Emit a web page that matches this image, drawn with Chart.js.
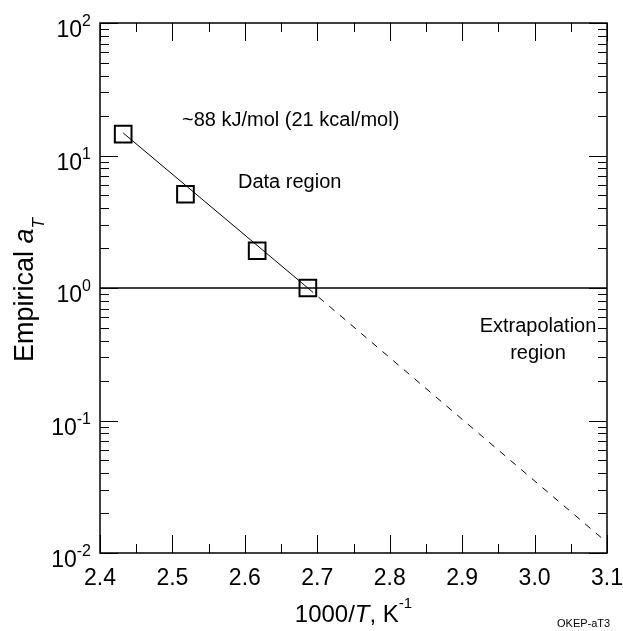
<!DOCTYPE html>
<html>
<head>
<meta charset="utf-8">
<script src="https://cdn.jsdelivr.net/npm/chart.js@4.4.1/dist/chart.umd.min.js"></script>
<style>
  body { margin: 0; background: #fff; }
  canvas { display: block; }
</style>
</head>
<body>
<canvas id="chart" width="623" height="631"></canvas>
<script>
// measured points (1000/T vs empirical shift factor)
var pointX = [2.432, 2.518, 2.617, 2.687];
var pointY = [14.5, 5.1, 1.91, 1.0];

// fitted Arrhenius line, solid over the data, dashed beyond it
var fitX = [2.432, 2.687];
var fitY = [14.8, 1.0];
var extrapX = [2.687, 3.1];
var extrapY = [1.0, 0.012];

// reference line at aT = 1
var refX = [2.4, 3.1];
var refY = [1, 1];

var xTicks = [2.4, 2.5, 2.6, 2.7, 2.8, 2.9, 3.0, 3.1];
var xTickLabels = ['2.4', '2.5', '2.6', '2.7', '2.8', '2.9', '3.0', '3.1'];
var yDecades = [-2, -1, 0, 1, 2];

function pairs(xs, ys) {
    return xs.map(function (x, i) { return {x: x, y: ys[i]}; });
}

var FONT = 'Liberation Sans, Arial, Helvetica, sans-serif';

// draw a run of text pieces with their own fonts and vertical shifts
function richText(ctx, parts, x, y, align) {
    var total = 0;
    parts.forEach(function (p) { ctx.font = p.font; total += ctx.measureText(p.t).width; });
    var cx = align === 'center' ? x - total / 2 : (align === 'right' ? x - total : x);
    ctx.textAlign = 'left';
    ctx.textBaseline = 'alphabetic';
    parts.forEach(function (p) {
        ctx.font = p.font;
        ctx.fillText(p.t, cx, y + (p.dy || 0));
        cx += ctx.measureText(p.t).width;
    });
}

Chart.register({
    id: 'frame',
    afterDraw: function (chart) {
        var ctx = chart.ctx;
        var xs = chart.scales.x, ys = chart.scales.y;
        var a = chart.chartArea;
        ctx.save();
        ctx.strokeStyle = '#000';
        ctx.fillStyle = '#000';

        // ticks on all four sides, pointing inward
        ctx.lineWidth = 1;
        ctx.beginPath();
        for (var v = 48; v <= 62; v++) {
            var xv = v * 0.05;
            var px = Math.round(xs.getPixelForValue(xv)) + 0.5;
            var len = (v % 2 === 0) ? 18 : 9;
            ctx.moveTo(px, a.bottom); ctx.lineTo(px, a.bottom - len);
            ctx.moveTo(px, a.top); ctx.lineTo(px, a.top + len);
        }
        for (var d = -2; d < 2; d++) {
            for (var m = 1; m <= 10; m++) {
                var py = Math.round(ys.getPixelForValue(m * Math.pow(10, d))) + 0.5;
                var l = (m === 1 || m === 10) ? 18 : 9;
                ctx.moveTo(a.left, py); ctx.lineTo(a.left + l, py);
                ctx.moveTo(a.right, py); ctx.lineTo(a.right - l, py);
            }
        }
        ctx.stroke();

        // frame
        ctx.lineWidth = 1.5;
        ctx.strokeRect(a.left, a.top, a.right - a.left, a.bottom - a.top);

        // x tick labels
        ctx.font = '23px ' + FONT;
        ctx.textAlign = 'center';
        ctx.textBaseline = 'alphabetic';
        xTicks.forEach(function (t, i) {
            ctx.fillText(xTickLabels[i], xs.getPixelForValue(t), 585);
        });

        // y tick labels as powers of ten
        yDecades.forEach(function (d) {
            var py = ys.getPixelForValue(Math.pow(10, d));
            ctx.textAlign = 'right';
            ctx.textBaseline = 'alphabetic';
            ctx.font = '16px ' + FONT;
            var ew = ctx.measureText(String(d)).width;
            ctx.fillText(String(d), 91, py + 3);
            ctx.font = '23px ' + FONT;
            ctx.fillText('10', 91 - ew, py + 14);
        });

        // axis titles
        richText(ctx, [
            {t: '1000/', font: '24px ' + FONT},
            {t: 'T', font: 'italic 24px ' + FONT},
            {t: ', K', font: '24px ' + FONT},
            {t: '-1', font: '15px ' + FONT, dy: -14}
        ], (a.left + a.right) / 2, 622, 'center');

        ctx.save();
        ctx.translate(33, 290);
        ctx.rotate(-Math.PI / 2);
        richText(ctx, [
            {t: 'Empirical ', font: '27px ' + FONT},
            {t: 'a', font: 'italic 27px ' + FONT},
            {t: 'T', font: 'italic 17px ' + FONT, dy: 11}
        ], 0, 0, 'center');
        ctx.restore();

        // annotations
        ctx.font = '20px ' + FONT;
        ctx.textAlign = 'left';
        ctx.fillText('~88 kJ/mol (21 kcal/mol)', 182, 126);
        ctx.fillText('Data region', 238, 188);
        ctx.textAlign = 'center';
        ctx.fillText('Extrapolation', 538, 332);
        ctx.fillText('region', 538, 359);
        ctx.font = '11px ' + FONT;
        ctx.textAlign = 'left';
        ctx.fillText('OKEP-aT3', 557, 627);
        ctx.restore();
    }
});

var ctx = document.getElementById('chart').getContext('2d');
var chart = new Chart(ctx, {
    type: 'scatter',
    data: {
        datasets: [
            {
                data: pairs(refX, refY),
                showLine: true,
                borderColor: '#000',
                borderWidth: 1.3,
                pointRadius: 0
            },
            {
                data: pairs(fitX, fitY),
                showLine: true,
                borderColor: '#000',
                borderWidth: 1,
                pointRadius: 0
            },
            {
                data: pairs(extrapX, extrapY),
                showLine: true,
                borderColor: '#000',
                borderWidth: 1,
                borderDash: [7, 7],
                pointRadius: 0
            },
            {
                data: pairs(pointX, pointY),
                showLine: false,
                pointStyle: 'rect',
                pointRadius: 11.8,
                pointBorderWidth: 2,
                pointBorderColor: '#000',
                pointBackgroundColor: 'rgba(0,0,0,0)'
            }
        ]
    },
    options: {
        responsive: false,
        animation: false,
        events: [],
        layout: {
            padding: {left: 100, right: 16, top: 23, bottom: 78}
        },
        scales: {
            x: {type: 'linear', min: 2.4, max: 3.1, display: false},
            y: {type: 'logarithmic', min: 0.01, max: 100, display: false}
        },
        plugins: {
            legend: {display: false},
            tooltip: {enabled: false}
        }
    }
});
</script>
</body>
</html>
